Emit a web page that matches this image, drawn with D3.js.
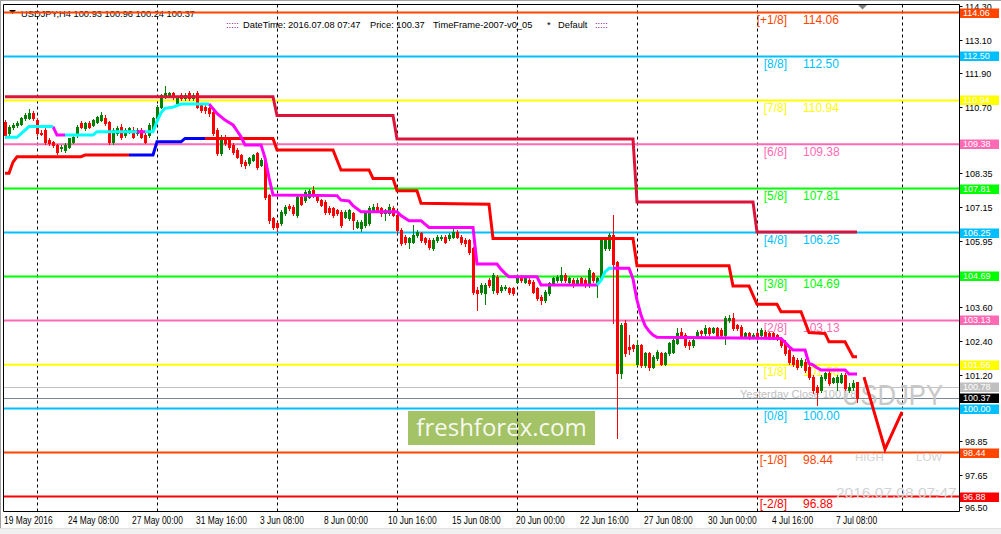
<!DOCTYPE html>
<html><head><meta charset="utf-8">
<script src="https://cdn.jsdelivr.net/npm/d3@7"></script>
<style>
html,body{margin:0;padding:0;background:#fff;overflow:hidden}
svg{display:block}
text{font-family:"Liberation Sans",Arial,sans-serif}
</style></head><body>
<svg id="c" width="1001" height="534"></svg>
<script>
// ---------------- DATA ----------------
const symbol = "USDJPY";
const timeframe = "H4";
const lastTime = "2016.07.08 07:47";
const bidPrice = 100.37;
const yesterdayClose = 100.78;
// candles: [open, high, low, close] per H4 bar, bar 0 = 19 May 2016 00:00
const candles = [
[110.18,110.25,109.62,109.71],[109.77,110.06,109.70,110.01],[110.00,110.12,109.93,110.07],[110.05,110.20,110.00,110.13],
[110.10,110.34,110.05,110.30],[110.30,110.48,110.26,110.42],[110.32,110.62,110.28,110.48],[110.50,110.55,110.25,110.30],
[110.25,110.32,109.72,109.77],[109.80,109.90,109.70,109.74],[109.88,109.95,109.40,109.47],[109.55,109.60,109.36,109.42],
[109.45,109.50,109.28,109.36],[109.36,109.40,109.05,109.12],[109.24,109.36,109.15,109.30],[109.18,109.42,109.12,109.36],
[109.30,109.62,109.25,109.59],[109.47,109.72,109.42,109.65],[109.70,110.05,109.65,110.01],[110.13,110.20,109.95,110.01],
[109.95,110.18,109.90,110.13],[110.15,110.20,109.96,110.01],[110.07,110.28,110.02,110.24],[110.18,110.40,110.12,110.36],
[110.24,110.52,110.20,110.42],[110.30,110.42,110.08,110.13],[110.18,110.22,109.40,109.47],[109.47,109.95,109.40,109.89],
[109.77,110.02,109.72,109.95],[110.01,110.10,109.58,109.65],[109.71,109.95,109.65,109.89],[109.83,110.00,109.78,109.95],
[109.89,109.98,109.60,109.65],[109.77,109.95,109.70,109.89],[109.89,109.95,109.60,109.65],[109.71,109.78,109.42,109.47],
[109.71,110.12,109.65,110.07],[109.89,110.36,109.85,110.30],[110.30,110.78,110.25,110.72],[110.72,111.18,110.68,111.13],
[111.07,111.45,111.02,111.19],[111.10,111.25,111.05,111.19],[111.19,111.25,111.00,111.07],[110.85,111.08,110.78,111.01],
[111.13,111.20,110.95,111.01],[111.01,111.22,110.96,111.13],[111.19,111.26,110.95,111.01],[111.01,111.22,110.96,111.13],
[111.19,111.26,110.66,110.72],[110.78,110.84,110.52,110.60],[110.72,110.78,110.50,110.60],[110.66,110.72,110.40,110.48],
[110.54,110.60,109.70,109.77],[109.89,109.95,109.00,109.06],[109.06,109.70,109.00,109.65],[109.65,109.72,109.35,109.42],
[109.53,109.60,109.20,109.30],[109.36,109.42,109.05,109.12],[109.18,109.25,108.88,108.94],[109.00,109.05,108.62,108.71],
[108.77,108.82,108.55,108.65],[108.71,108.94,108.64,108.88],[108.82,109.05,108.78,109.00],[109.06,109.12,108.52,108.59],
[108.65,108.90,108.60,108.82],[108.82,108.88,107.45,107.52],[107.58,107.62,106.58,106.69],[106.75,106.80,106.38,106.46],
[106.58,106.62,106.30,106.46],[106.58,107.05,106.50,106.99],[106.93,107.22,106.88,107.17],[107.20,107.28,107.05,107.12],
[107.17,107.22,106.86,106.93],[106.87,107.58,106.80,107.52],[107.52,107.56,107.22,107.28],[107.40,107.76,107.35,107.70],
[107.52,107.80,107.48,107.72],[107.76,107.90,107.52,107.58],[107.58,107.62,107.35,107.40],[107.40,107.45,107.18,107.23],
[107.34,107.40,106.92,106.99],[107.11,107.18,106.90,106.99],[107.11,107.16,106.80,106.87],[107.05,107.10,106.86,106.93],
[106.99,107.04,106.45,106.52],[106.81,107.04,106.75,106.99],[106.75,107.10,106.70,107.05],[106.93,106.98,106.36,106.69],
[106.46,106.70,106.40,106.63],[106.40,106.68,106.32,106.63],[106.52,106.98,106.46,106.93],[106.58,107.18,106.52,107.11],
[107.05,107.26,107.00,107.17],[107.17,107.29,106.98,107.05],[107.11,107.16,106.85,106.93],[106.93,107.10,106.70,107.05],
[106.93,107.26,106.88,107.17],[107.11,107.18,106.82,106.87],[106.87,106.92,106.28,106.34],[106.34,106.40,105.80,105.87],
[106.10,106.15,105.85,105.93],[105.93,106.10,105.70,106.04],[105.93,106.52,105.88,106.16],[106.16,106.34,106.10,106.28],
[106.22,106.28,105.92,105.98],[106.04,106.10,105.85,105.93],[105.98,106.04,105.68,105.75],[105.69,106.04,105.62,105.98],
[105.98,106.15,105.92,106.10],[106.04,106.16,105.98,106.10],[106.10,106.16,105.88,105.93],[106.04,106.22,105.98,106.16],
[106.10,106.36,106.04,106.28],[106.28,106.34,106.04,106.10],[106.10,106.16,105.86,105.93],[105.98,106.04,105.78,105.87],
[105.98,106.02,105.50,105.57],[105.69,105.75,104.08,104.15],[104.21,104.30,103.50,104.09],[104.15,104.45,104.06,104.39],
[104.09,104.46,103.73,104.39],[104.56,104.62,104.30,104.39],[104.21,104.80,104.09,104.74],[104.68,104.75,104.08,104.15],
[104.21,104.40,104.15,104.33],[104.27,104.38,104.22,104.33],[104.27,104.33,104.08,104.15],[104.27,104.32,104.02,104.09],
[104.50,104.70,104.45,104.62],[104.68,104.74,104.50,104.56],[104.50,104.68,104.45,104.62],[104.56,104.62,104.40,104.45],
[104.50,104.55,104.10,104.15],[104.27,104.32,103.85,103.91],[103.97,104.02,103.70,103.85],[103.85,104.20,103.80,104.15],
[104.09,104.50,104.04,104.45],[104.45,104.68,104.40,104.62],[104.56,104.74,104.50,104.68],[104.56,105.04,104.50,104.74],
[104.74,104.80,104.50,104.56],[104.50,104.68,104.45,104.62],[104.56,104.62,104.33,104.39],[104.45,104.62,104.40,104.56],
[104.62,104.68,104.38,104.45],[104.56,104.62,104.33,104.39],[104.39,105.00,104.33,104.92],[104.80,104.86,104.50,104.56],
[104.45,104.68,103.97,104.62],[104.62,106.04,104.56,105.98],[105.69,106.10,105.62,105.98],[105.69,106.22,105.62,106.16],
[106.16,106.87,103.03,105.15],[105.21,105.25,98.94,101.25],[101.25,103.03,101.07,102.97],[103.03,103.13,101.85,101.96],
[102.20,102.60,101.95,102.10],[102.25,102.30,102.05,102.14],[101.60,102.45,101.55,102.25],[102.25,102.30,101.48,101.54],
[101.54,102.02,101.48,101.96],[101.96,102.02,101.37,101.49],[101.49,101.90,101.44,101.84],[101.78,102.08,101.72,102.02],
[101.96,102.02,101.55,101.60],[101.60,102.02,101.55,101.96],[101.96,102.38,101.90,102.32],[102.02,102.50,101.96,102.43],
[102.32,102.85,102.28,102.67],[102.73,102.85,102.50,102.55],[102.61,102.67,102.20,102.25],[102.37,102.43,102.10,102.25],
[102.25,102.50,102.20,102.43],[102.55,102.80,102.50,102.73],[102.75,102.80,102.55,102.67],[102.67,102.96,102.60,102.85],
[102.85,102.90,102.60,102.67],[102.73,102.90,102.67,102.85],[102.85,102.90,102.50,102.55],[102.79,102.85,102.55,102.61],
[102.61,103.30,102.30,103.20],[103.14,103.32,103.08,103.20],[103.20,103.38,102.80,102.85],[102.97,103.02,102.78,102.85],
[102.91,102.96,102.50,102.55],[102.55,102.72,102.50,102.67],[102.67,102.73,102.48,102.55],[102.55,102.68,102.50,102.61],
[102.67,102.75,102.48,102.55],[102.61,102.85,102.55,102.79],[102.73,102.80,102.50,102.55],[102.67,102.72,102.48,102.55],
[102.67,102.72,102.46,102.55],[102.61,102.66,102.42,102.49],[102.49,102.55,102.20,102.26],[102.37,102.42,101.90,101.96],
[102.08,102.12,101.60,101.66],[101.84,101.90,101.52,101.60],[101.72,101.78,101.40,101.49],[101.55,101.78,101.48,101.72],
[101.66,101.75,101.30,101.37],[101.49,101.55,101.05,101.13],[101.13,101.20,100.54,100.66],[100.78,100.85,100.13,100.60],
[100.66,101.18,100.60,101.13],[101.07,101.30,101.00,101.25],[101.25,101.32,100.84,100.90],[100.95,101.12,100.90,101.07],
[100.95,101.18,100.66,101.13],[100.95,101.25,100.90,101.19],[101.19,101.25,100.66,100.72],[100.66,100.90,100.60,100.78],
[100.78,101.02,100.66,100.90],[100.93,100.96,100.24,100.37]
];
// time axis labels
const timeLabelBars = [0,16,32,48,64,80,96,112,128,144,160,176,192,208];
const timeLabelTexts = ["19 May 2016","24 May 08:00","27 May 00:00","31 May 16:00","3 Jun 08:00","8 Jun 00:00","10 Jun 16:00","15 Jun 08:00","20 Jun 00:00","22 Jun 16:00","27 Jun 08:00","30 Jun 00:00","4 Jul 16:00","7 Jul 08:00"];
const gridBars = [8,38,68,98,128,158,188,224.25];
// price scale ticks
const priceTicks = [114.30,113.10,111.90,110.70,109.50,108.35,107.15,105.95,104.75,103.60,102.40,101.20,100.00,98.85,97.65,96.50];
// Murrey Math levels
const mmNames = ["[+1/8]","[8/8]","[7/8]","[6/8]","[5/8]","[4/8]","[3/8]","[2/8]","[1/8]","[0/8]","[-1/8]","[-2/8]"];
const mmValues = [114.06,112.50,110.94,109.38,107.81,106.25,104.69,103.13,101.56,100.00,98.44,96.88];
// upper stepped line (crimson)
const upperLine = [[0,111.07],[67,111.07],[68,110.40],[97,110.40],[98,109.57],[157,109.57],[158,107.33],[187,107.33],[188,106.27],[213,106.27]];
// lower stepped line: red parts and blue part
const lowerRed = [
 [[0,108.35],[1,108.35],[2,108.75],[3,108.94],[19,108.94],[20,109.00],[31,109.00]],
 [[50,109.59],[67,109.59],[68,109.18],[82,109.18],[84,108.47],[91,108.47],[92,108.17],[97,108.17],[98,107.73],[103,107.73],[104,107.29],[121,107.25],[122,106.04],[157,106.04],[158,105.07],[181,105.07],[182,104.35],[186,104.35],[188,103.70],[193,103.70],[194,103.44],[199,103.44],[201,102.70],[205,102.67],[206,102.37],[210,102.37],[212,101.84],[213,101.84]]
];
const lowerBlue = [
 [[31,109.00],[37,109.00],[38,109.47],[44,109.47],[45,109.59],[50,109.59]]
];
// trend line: rising parts (aqua) and falling parts (magenta)
const trendUp = [
 [[0,109.63],[3,109.63],[6,110.01],[12,110.01]],
 [[15,109.71],[22,109.71],[23,109.83],[33,109.83]],
 [[35,109.83],[37,109.83],[38,110.20],[39,110.50],[40,110.66],[42,110.70],[44,110.81],[51,110.81]],
 [[148,104.39],[149,104.55],[150,104.85],[151,104.98],[152,104.98]]
];
const trendDown = [
 [[12,110.01],[13,109.71],[15,109.71]],
 [[33,109.83],[35,109.83]],
 [[51,110.81],[53,110.48],[55,110.24],[57,110.07],[59,109.65],[60,109.36],[64,109.36],[65,108.90],[66,108.20],[67,107.58],[83,107.56],[84,107.40],[86,107.37],[87,107.20],[89,106.99],[98,106.99],[99,106.85],[101,106.67],[104,106.67],[105,106.55],[106,106.43],[117,106.43],[118,105.13],[123,105.13],[124,104.95],[125,104.80],[126,104.68],[133,104.68],[134,104.39],[148,104.39]],
 [[152,104.98],[156,104.98],[157,104.60],[158,103.85],[159,103.32],[160,102.95],[161,102.75],[162,102.61],[163,102.53],[194,102.49],[195,102.35],[196,102.20],[197,102.08],[200,102.08],[201,101.60],[202,101.55],[203,101.45],[204,101.37],[210,101.37],[211,101.23],[213,101.23]]
];
// hand-drawn forecast zigzag [bar, price]
const forecast = [[214.75,101.12],[220,98.56],[224.25,99.88]];

// ---------------- STYLE ----------------
const mmColors = ["#FF4500","#00BFFF","#FFFF00","#FF69B4","#00FF00","#00BFFF","#00FF00","#FF69B4","#FFFF00","#00BFFF","#FF4500","#FF0000"];
const bullColor = "#008000", bearColor = "#FF0000";

// ---------------- DRAW ----------------
const svg = d3.select("#c");
const W = 1001, H = 534;
const plotL = 3.5, plotR = 959.5, plotT = 4.5, plotB = 511.5;
const X = d3.scaleLinear().domain([0, 213]).range([5, 857]);
const Y = d3.scaleLinear().domain([96.88, 114.06]).range([496.5, 12.5]);

svg.append("rect").attr("width", W).attr("height", H).attr("fill", "#fff");
svg.append("rect").attr("x",0).attr("y",528).attr("width",W).attr("height",6).attr("fill","#f0f0f0");
svg.append("line").attr("x1",0).attr("x2",W).attr("y1",528.5).attr("y2",528.5).attr("stroke","#e3e3e3");
svg.append("line").attr("x1",0).attr("x2",W).attr("y1",0.5).attr("y2",0.5).attr("stroke","#a0a0a0");
svg.append("line").attr("x1",0.5).attr("x2",0.5).attr("y1",0).attr("y2",528).attr("stroke","#a0a0a0");

svg.append("defs").append("clipPath").attr("id","plot").append("rect")
  .attr("x",plotL).attr("y",plotT).attr("width",plotR-plotL).attr("height",plotB-plotT);
const plot = svg.append("g").attr("clip-path","url(#plot)");

// freshforex logo box
plot.append("rect").attr("x",408).attr("y",411).attr("width",187).attr("height",34).attr("fill","#a4c266");
plot.append("text").attr("x",501.5).attr("y",436).attr("text-anchor","middle")
  .style("font-family","'Open Sans',sans-serif").style("font-size","24px").attr("fill","#f6f9ef")
  .text("freshforex.com");

// header text
plot.append("path").attr("d","M9,10 L16,10 L12.5,14 Z").attr("fill","#000");
const last = candles[candles.length-1];
plot.append("text").attr("x",21).attr("y",16.5).style("font-size","9.3px").attr("fill","#000")
  .text(`${symbol},${timeframe}  ${last.map(v=>v.toFixed(2)).join(" ")}`);
const info = plot.append("g").style("font-size","9.3px").attr("fill","#000");
info.append("text").attr("x",226).attr("y",28).attr("fill","#800080").text(":::::");
info.append("text").attr("x",243).attr("y",28).text("DateTime: " + lastTime);
info.append("text").attr("x",370).attr("y",28).text("Price: " + bidPrice.toFixed(2));
info.append("text").attr("x",433).attr("y",28).text("TimeFrame-2007-v0_05");
info.append("text").attr("x",547).attr("y",28).text("*");
info.append("text").attr("x",558).attr("y",28).text("Default");
info.append("text").attr("x",595).attr("y",28).attr("fill","#800080").text(":::::");

// grid
plot.selectAll("line.grid").data(gridBars).enter().append("line")
  .attr("x1",d=>Math.round(X(d))+0.5).attr("x2",d=>Math.round(X(d))+0.5)
  .attr("y1",plotT).attr("y2",plotB).attr("stroke","#000").attr("stroke-dasharray","3,3");

// yesterday close and bid lines
plot.append("line").attr("x1",plotL).attr("x2",plotR).attr("y1",Math.round(Y(yesterdayClose))+0.5).attr("y2",Math.round(Y(yesterdayClose))+0.5).attr("stroke","#c0c0c0");
plot.append("line").attr("x1",plotL).attr("x2",plotR).attr("y1",Math.round(Y(bidPrice))+0.5).attr("y2",Math.round(Y(bidPrice))+0.5).attr("stroke","#778899");

// Murrey levels
mmValues.forEach((v,i)=>{
  const yy = Y(v);
  plot.append("line").attr("x1",plotL).attr("x2",plotR).attr("y1",yy).attr("y2",yy)
    .attr("stroke",mmColors[i]).attr("stroke-width",2);
  plot.append("text").attr("x",787).attr("y",yy+11.5).attr("text-anchor","end")
    .style("font-size","12px").attr("fill",mmColors[i]).text(mmNames[i]);
  plot.append("text").attr("x",803).attr("y",yy+11.5)
    .style("font-size","12px").attr("fill",mmColors[i]).text(v.toFixed(2));
});

// text objects
plot.append("text").attr("x",740).attr("y",398).style("font-size","11px").attr("fill","#c0c0c0")
  .text("Yesterday Close " + yesterdayClose.toFixed(2));
plot.append("text").attr("x",842).attr("y",405).style("font-size","29px").attr("fill","#c8c8c8")
  .attr("textLength",101).attr("lengthAdjust","spacingAndGlyphs").text(symbol);
plot.append("text").attr("x",855).attr("y",461).style("font-size","11.5px").attr("fill","#d3d3d3").text("HIGH");
plot.append("text").attr("x",916).attr("y",461).style("font-size","11.5px").attr("fill","#d3d3d3").text("LOW");
plot.append("text").attr("x",836).attr("y",498).style("font-size","15.5px").attr("fill","#d3d3d3").text(lastTime);

// candles
const cg = plot.append("g");
candles.forEach((c,i)=>{
  const [o,h,l,cl] = c;
  const col = cl >= o ? bullColor : bearColor;
  const cx = Math.round(X(i));
  cg.append("line").attr("x1",cx+0.5).attr("x2",cx+0.5).attr("y1",Math.round(Y(h))).attr("y2",Math.round(Y(l))+1)
    .attr("stroke",col);
  const top = Math.round(Y(Math.max(o,cl))), bot = Math.round(Y(Math.min(o,cl)));
  cg.append("rect").attr("x",cx-1).attr("y",top).attr("width",3).attr("height",Math.max(1,bot-top+1)).attr("fill",col);
});

// indicator lines
const lineGen = d3.line().x(d=>X(d[0])).y(d=>Y(d[1]));
function drawLine(pts,color){
  plot.append("path").attr("d",lineGen(pts)).attr("fill","none").attr("stroke",color)
    .attr("stroke-width",3).attr("stroke-linejoin","miter");
}
lowerRed.forEach(s=>drawLine(s,"#FF0000"));
lowerBlue.forEach(s=>drawLine(s,"#0000FF"));
drawLine(upperLine,"#DC143C");
trendDown.forEach(s=>drawLine(s,"#FF00FF"));
trendUp.forEach(s=>drawLine(s,"#00FFFF"));
drawLine(forecast,"#FF0000");

// chart shift marker
svg.append("path").attr("d","M858,5 L867,5 L862.5,9.5 Z").attr("fill","#808080");

// frame & axes
svg.append("line").attr("x1",plotL).attr("x2",plotR).attr("y1",plotT).attr("y2",plotT).attr("stroke","#000");
svg.append("line").attr("x1",plotL).attr("x2",plotL).attr("y1",plotT).attr("y2",plotB).attr("stroke","#000");
svg.append("line").attr("x1",plotR).attr("x2",plotR).attr("y1",plotT).attr("y2",plotB).attr("stroke","#000");
svg.append("line").attr("x1",plotL).attr("x2",plotR).attr("y1",plotB).attr("y2",plotB).attr("stroke","#000");

// price axis: ticks, labels (a label fully covered by a level box is not drawn)
const boxVals = mmValues.concat([yesterdayClose, bidPrice]);
const boxCols = mmColors.concat(["#c0c0c0","#000000"]);
const pa = svg.append("g");
priceTicks.forEach(v=>{
  const yy = Math.round(Y(v))+0.5;
  pa.append("line").attr("x1",plotR).attr("x2",plotR+3).attr("y1",yy).attr("y2",yy).attr("stroke","#000");
  const hidden = boxVals.some(b=>Math.abs(Y(b)-Y(v))<5);
  if(!hidden) pa.append("text").attr("x",965).attr("y",yy+3.2).style("font-size","9px").attr("fill","#000").text(v.toFixed(2));
});
boxVals.forEach((v,i)=>{
  const yy = Y(v);
  pa.append("rect").attr("x",960).attr("y",Math.round(yy)-4.5).attr("width",39).attr("height",9.5).attr("fill",boxCols[i]);
  pa.append("text").attr("x",963).attr("y",Math.round(yy)+3.3).style("font-size","9px").attr("fill","#fff").text(v.toFixed(2));
});

// time axis labels
const ta = svg.append("g");
timeLabelBars.forEach((b,i)=>{
  const t = ta.append("text").attr("x",Math.round(X(b))-1).attr("y",524).style("font-size","10px").attr("fill","#000").text(timeLabelTexts[i]);
  const w = t.node().getComputedTextLength();
  t.attr("textLength", w*0.84).attr("lengthAdjust","spacingAndGlyphs");
});
</script>
</body></html>
